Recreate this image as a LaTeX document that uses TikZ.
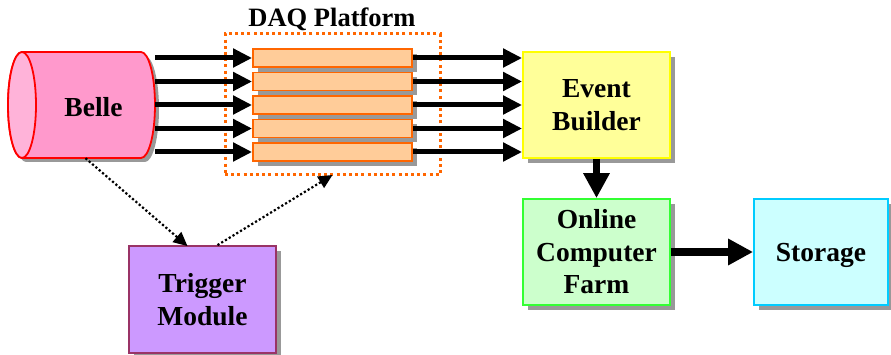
\documentclass[tikz,border=0pt]{standalone}
\usepackage{fontspec}
\setmainfont{Liberation Serif}
\usetikzlibrary{arrows.meta,shadows}
\definecolor{bellebody}{HTML}{FF99CC}
\definecolor{belleface}{HTML}{FFB3D9}
\definecolor{belleline}{HTML}{FF0000}
\definecolor{orfill}{HTML}{FFCC99}
\definecolor{orline}{HTML}{FF6600}
\definecolor{ebfill}{HTML}{FFFF99}
\definecolor{ebline}{HTML}{FFFF00}
\definecolor{farmfill}{HTML}{CCFFCC}
\definecolor{farmline}{HTML}{33FF33}
\definecolor{stfill}{HTML}{CCFFFF}
\definecolor{stline}{HTML}{00CCFF}
\definecolor{trfill}{HTML}{CC99FF}
\definecolor{trline}{HTML}{993366}
\definecolor{shadowgray}{HTML}{999999}
\begin{document}
\begin{tikzpicture}[x=1pt,y=-1pt,
  lbl/.style={font=\fontsize{27.5}{32.5}\selectfont\bfseries, align=center},
  shad/.style={drop shadow={shadow xshift=5pt,shadow yshift=-5pt,fill=shadowgray,opacity=1}},
  bigbox/.style={rectangle, draw, line width=1.8pt, minimum width=147pt, minimum height=106pt, inner sep=0pt, shad, lbl},
  orbox/.style={rectangle, draw=orline, fill=orfill, line width=1.8pt, minimum width=159pt, minimum height=18pt, inner sep=0pt, shad},
  thin arrow/.style={line width=5pt, -{Triangle[length=19pt,width=18pt]}},
  fat arrow/.style={line width=7.5pt, -{Triangle[length=25pt,width=25pt]}},
  dot arrow/.style={line width=2.2pt, dash pattern=on 2.2pt off 2.2pt, -{Triangle[length=14pt,width=13pt]}}
]
\useasboundingbox (0,0) rectangle (891,355);

% Belle cylinder (shadow, body, front face)
\fill[shadowgray] (26,56) -- (145,56) arc[start angle=90,end angle=-90,x radius=14pt,y radius=53pt] -- (26,162) arc[start angle=270,end angle=90,x radius=14pt,y radius=53pt] -- cycle;
\filldraw[fill=bellebody, draw=belleline, line width=1.8pt] (22,52) -- (141,52) arc[start angle=90,end angle=-90,x radius=14pt,y radius=53pt] -- (22,158) arc[start angle=270,end angle=90,x radius=14pt,y radius=53pt] -- cycle;
\filldraw[fill=belleface, draw=belleline, line width=1.8pt] (22,105) ellipse[x radius=14pt, y radius=53pt];
\node[rectangle, minimum width=147pt, minimum height=106pt, inner sep=0pt] (belle) at (81.5,105) {};
\node[lbl] (belletext) at (93.5,107.5) {Belle};

% DAQ platform
\node[rectangle, draw=orline, line width=3pt, dash pattern=on 3pt off 3.2pt, minimum width=215pt, minimum height=141pt, inner sep=0pt] (daq) at (332.5,104.5) {};
\node[font=\fontsize{26.5}{30}\selectfont\bfseries] (daqlabel) at (332,19) {DAQ Platform};
\foreach \i/\y in {1/58,2/81.5,3/105,4/128.5,5/152}{
  \node[orbox] (o\i) at (332.5,\y) {};
}

% Event builder, farm, storage, trigger
\node[bigbox, draw=ebline, fill=ebfill] (eb) at (596.5,105) {Event\\Builder};
\node[bigbox, draw=farmline, fill=farmfill] (farm) at (596.5,252) {Online\\Computer\\Farm};
\node[bigbox, draw=stline, fill=stfill, minimum width=134pt, text depth=0pt] (st) at (821,252) {Storage};
\node[bigbox, draw=trline, fill=trfill, minimum height=107pt] (trig) at (202.5,299.5) {Trigger\\Module};

% arrows
\foreach \i in {1,...,5}{
  \draw[thin arrow] (belle.east |- o\i) -- (o\i.west);
  \draw[thin arrow] (o\i.east) -- (eb.west |- o\i);
}
\draw[fat arrow] (eb.south) -- (farm.north);
\draw[fat arrow] (farm.east) -- (st.west);
\draw[dot arrow] ([xshift=4pt]belle.south) -- ([xshift=-15pt,yshift=-1pt]trig.north);
\draw[dot arrow] ([xshift=15pt]trig.north) -- ([yshift=1.5pt]daq.south);
\end{tikzpicture}
\end{document}
